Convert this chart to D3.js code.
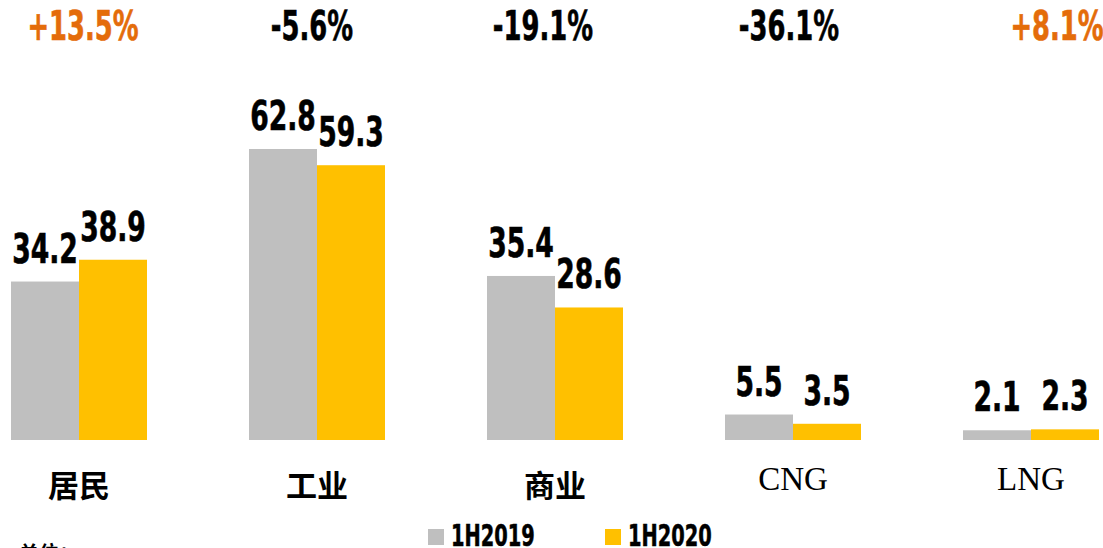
<!DOCTYPE html>
<html>
<head>
<meta charset="utf-8">
<script src="https://cdn.jsdelivr.net/npm/d3@7"></script>
<style>
  html, body { margin: 0; padding: 0; background: #fff; }
  svg { display: block; }
  .num { font-family: "DejaVu Sans Condensed", "DejaVu Sans", sans-serif; font-stretch: condensed; font-weight: bold; }
</style>
</head>
<body>
<svg id="chart" width="1103" height="548"></svg>
<script>
const categories = ["居民", "工业", "商业", "CNG", "LNG"];
const seriesNames = ["1H2019", "1H2020"];
const values2019 = [34.2, 62.8, 35.4, 5.5, 2.1];
const values2020 = [38.9, 59.3, 28.6, 3.5, 2.3];
const changeLabels = ["+13.5%", "-5.6%", "-19.1%", "-36.1%", "+8.1%"];
const unitLabel = "单位：";

const colors = { "1H2019": "#BFBFBF", "1H2020": "#FFC000" };
const posColor = "#E46C0A", negColor = "#000000";
const changeDx = [4, -5, -12, -4, 26];

const svg = d3.select("#chart");

const x0 = d3.scaleBand().domain(categories).range([11, 1099]).paddingInner(102/238).paddingOuter(0);
const x1 = d3.scaleBand().domain(seriesNames).range([0, x0.bandwidth()]).padding(0);
const y = d3.scaleLinear().domain([0, 62.8]).range([440, 149]);

// horizontally compressed bold text, mimicking a condensed heavy face
function condensedText(sel, sx) {
  sel.each(function() {
    const t = d3.select(this);
    const x = +t.attr("data-x"), yy = +t.attr("data-y");
    t.attr("transform", `translate(${x},${yy}) scale(${sx},1)`);
  });
}

const data = categories.map((c, i) => ({
  cat: c,
  vals: [
    { s: "1H2019", v: values2019[i] },
    { s: "1H2020", v: values2020[i] }
  ]
}));

const groups = svg.append("g").selectAll("g.grp").data(data).join("g")
  .attr("class", "grp")
  .attr("transform", d => `translate(${x0(d.cat)},0)`);

groups.selectAll("rect").data(d => d.vals).join("rect")
  .attr("x", d => x1(d.s))
  .attr("y", d => y(d.v))
  .attr("width", x1.bandwidth())
  .attr("height", d => y(0) - y(d.v))
  .attr("fill", d => colors[d.s]);

groups.selectAll("text.val").data(d => d.vals).join("text")
  .attr("class", "val num")
  .attr("data-x", d => x1(d.s) + x1.bandwidth() / 2)
  .attr("data-y", d => y(d.v) - 19)
  .attr("text-anchor", "middle")
  .attr("font-size", 40)
  .attr("fill", "#000")
  .attr("stroke", "#000")
  .attr("stroke-width", 0.6)
  .text(d => d.v.toFixed(1))
  .call(condensedText, 0.74);

// category axis labels
const xAxis = d3.axisBottom(x0).tickSize(0).tickPadding(0);
const axG = svg.append("g").attr("transform", "translate(0,440)").call(xAxis);
axG.select(".domain").remove();
axG.selectAll(".tick text")
  .attr("y", d => /[A-Z]/.test(d) ? 50 : 57)
  .attr("dy", 0)
  .attr("fill", "#000")
  .attr("font-size", d => /[A-Z]/.test(d) ? 33 : 31)
  .attr("font-weight", d => /[A-Z]/.test(d) ? "normal" : "bold")
  .attr("font-family", d => /[A-Z]/.test(d) ? "'Liberation Serif', serif" : "'Noto Sans CJK SC', sans-serif");

// change labels
svg.append("g").selectAll("text").data(changeLabels).join("text")
  .attr("class", "num")
  .attr("data-x", (d, i) => x0(categories[i]) + x0.bandwidth() / 2 + changeDx[i])
  .attr("data-y", 40)
  .attr("text-anchor", "middle")
  .attr("font-size", 41)
  .attr("fill", d => d.startsWith("+") ? posColor : negColor)
  .attr("stroke", d => d.startsWith("+") ? posColor : negColor)
  .attr("stroke-width", 0.6)
  .text(d => d)
  .call(condensedText, 0.7);

// legend
const legend = svg.append("g");
const legX = [428, 605];
seriesNames.forEach((s, i) => {
  legend.append("rect").attr("x", legX[i]).attr("y", 529).attr("width", 16).attr("height", 16).attr("fill", colors[s]);
  legend.append("text").attr("class", "num")
    .attr("data-x", legX[i] + 23).attr("data-y", 546)
    .attr("font-size", 30).attr("fill", "#000")
    .attr("stroke", "#000").attr("stroke-width", 0.5)
    .text(s)
    .call(condensedText, 0.72);
});

// unit label (clipped at bottom edge, as in the reference)
svg.append("text")
  .attr("x", 19).attr("y", 561)
  .attr("font-size", 20).attr("font-weight", "bold")
  .attr("font-family", "'Noto Sans CJK SC', sans-serif")
  .attr("fill", "#000")
  .text(unitLabel);
</script>
</body>
</html>
